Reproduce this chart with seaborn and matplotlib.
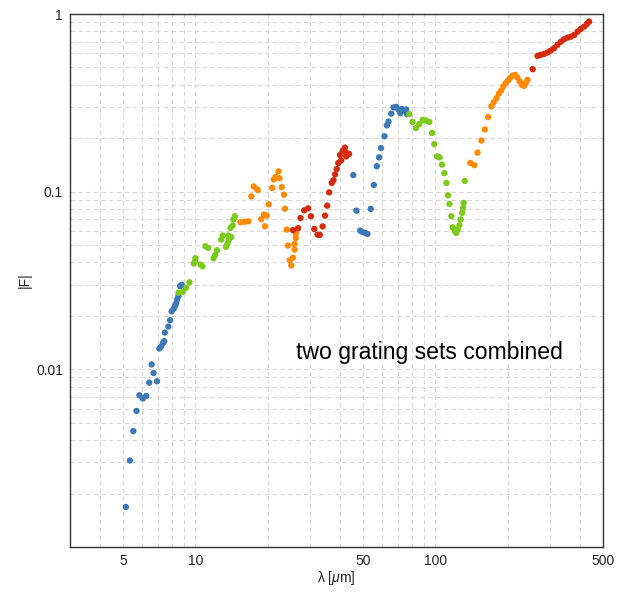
import numpy as np
import pandas as pd
import seaborn as sns
import matplotlib.pyplot as plt
from matplotlib.ticker import FixedLocator, NullFormatter

# wavelength [um] and |F| for each grating segment
blue1_x = [5.13, 5.33, 5.51, 5.68, 5.84, 6.04, 6.23, 6.42, 6.57, 6.69, 6.92, 7.07, 7.18, 7.32,
           7.41, 7.46, 7.71, 7.84, 7.96, 8.11, 8.22, 8.30, 8.38, 8.49, 8.63, 8.77]
blue1_y = [0.00168, 0.00307, 0.00449, 0.00583, 0.00714, 0.00685, 0.00708, 0.00841, 0.01066,
           0.00953, 0.00857, 0.0131, 0.0134, 0.0140, 0.0144, 0.0161, 0.0174, 0.0189, 0.0212,
           0.0219, 0.0227, 0.0234, 0.0247, 0.0258, 0.0294, 0.0299]

green1_x = [8.49, 8.85, 9.14, 9.44, 9.84, 9.97, 10.0, 10.5, 10.7, 11.0, 11.3, 11.9, 12.1, 12.3,
            12.8, 13.0, 13.4, 13.6, 13.7, 13.8, 14.0, 14.1, 14.3, 14.4, 14.6]
green1_y = [0.0270, 0.0273, 0.0288, 0.0309, 0.0394, 0.0405, 0.0422, 0.0388, 0.0380, 0.0493,
            0.0483, 0.0422, 0.0441, 0.0468, 0.0537, 0.0566, 0.0489, 0.0510, 0.0566, 0.0537,
            0.0625, 0.0556, 0.0644, 0.0697, 0.0727]

orange1_x = [15.4, 16.0, 16.6, 17.1, 17.5, 18.1, 18.2, 18.8, 19.3, 19.5, 19.8, 20.2, 20.9, 21.2,
             21.6, 22.2, 22.4, 22.9, 23.4, 23.6, 24.0, 24.3, 24.7, 25.1, 25.5, 25.9, 25.9,
             26.2, 26.2]
orange1_y = [0.0673, 0.0676, 0.0681, 0.0941, 0.107, 0.103, 0.102, 0.0700, 0.0743, 0.0638,
             0.0733, 0.0849, 0.105, 0.117, 0.121, 0.130, 0.119, 0.106, 0.0962, 0.0802, 0.0612,
             0.0498, 0.0411, 0.0384, 0.0425, 0.0472, 0.0508, 0.0549, 0.0581]

red1_x = [25.5, 26.8, 27.4, 28.4, 29.5, 30.3, 31.3, 32.3, 33.0, 33.9, 34.7, 35.4, 36.1, 37.0,
          37.6, 38.2, 38.8, 39.4, 40.1, 40.5, 41.0, 41.5, 42.0, 42.5, 42.7, 43.7]
red1_y = [0.0607, 0.0623, 0.0711, 0.0785, 0.0806, 0.0727, 0.0617, 0.0573, 0.0571, 0.0638,
          0.0733, 0.0834, 0.0991, 0.112, 0.116, 0.125, 0.134, 0.145, 0.161, 0.150, 0.168,
          0.172, 0.177, 0.158, 0.165, 0.163]

blue2_x = [45.5, 46.9, 48.6, 49.6, 51.0, 52.1, 53.8, 55.4, 57.0, 58.3, 59.4, 61.4, 62.8, 63.8,
           65.5, 67.0, 68.8, 70.2, 71.4, 72.6, 74.2, 75.6, 76.2]
blue2_y = [0.124, 0.0782, 0.0603, 0.0593, 0.0586, 0.0578, 0.0800, 0.109, 0.139, 0.156, 0.176,
           0.205, 0.236, 0.248, 0.275, 0.298, 0.300, 0.289, 0.277, 0.292, 0.285, 0.290, 0.273]

green2_x = [77.9, 80.4, 83.0, 85.7, 88.5, 91.4, 94.4, 96.9, 99.0, 101.6, 104.2, 106.6, 109.1,
            111.2, 113.0, 114.5, 116.7, 118.2, 120.5, 122.1, 124.0, 126.0, 127.6, 129.3, 130.6,
            131.4, 132.7]
green2_y = [0.273, 0.247, 0.228, 0.240, 0.253, 0.251, 0.247, 0.214, 0.185, 0.158, 0.156, 0.142,
            0.127, 0.112, 0.0953, 0.0853, 0.0727, 0.0630, 0.0603, 0.0586, 0.0612, 0.0647,
            0.0697, 0.0759, 0.0810, 0.0865, 0.115]

orange2_x = [140.0, 145.5, 149.9, 155.7, 160.8, 166.0, 171.3, 175.2, 179.9, 183.9, 188.2, 192.0,
             196.4, 200.8, 204.7, 209.4, 214.8, 219.8, 224.6, 229.1, 234.3, 238.2, 242.1]
orange2_y = [0.145, 0.141, 0.166, 0.194, 0.224, 0.263, 0.302, 0.318, 0.336, 0.356, 0.371, 0.391,
             0.408, 0.422, 0.435, 0.449, 0.454, 0.439, 0.418, 0.399, 0.394, 0.408, 0.426]

red2_x = [254.7, 266.6, 275.0, 283.9, 293.1, 302.6, 312.6, 322.7, 333.6, 344.4, 355.7, 367.2,
          379.3, 391.7, 404.5, 417.2, 428.5, 437.5]
red2_y = [0.489, 0.581, 0.589, 0.596, 0.607, 0.622, 0.642, 0.670, 0.698, 0.721, 0.736, 0.745,
          0.762, 0.796, 0.824, 0.849, 0.879, 0.906]

segments = [
    ("b1", blue1_x, blue1_y), ("g1", green1_x, green1_y), ("o1", orange1_x, orange1_y),
    ("r1", red1_x, red1_y), ("b2", blue2_x, blue2_y), ("g2", green2_x, green2_y),
    ("o2", orange2_x, orange2_y), ("r2", red2_x, red2_y),
]
palette = {"b1": "#3d79b6", "g1": "#7ccb1c", "o1": "#ff8a05", "r1": "#d52a0b",
           "b2": "#3d79b6", "g2": "#7ccb1c", "o2": "#ff8a05", "r2": "#d52a0b"}

df = pd.concat([pd.DataFrame({"lam": x, "F": y, "seg": s}) for s, x, y in segments],
               ignore_index=True)

sns.set_style("white")
plt.rcParams['font.family'] = ['Liberation Sans', 'DejaVu Sans']
plt.rcParams['mathtext.fontset'] = 'custom'
plt.rcParams['mathtext.it'] = 'Liberation Sans:italic'
plt.rcParams['mathtext.rm'] = 'Liberation Sans'
plt.rcParams['text.color'] = 'black'
plt.rcParams['axes.labelcolor'] = '#222222'
plt.rcParams['xtick.color'] = '#222222'
plt.rcParams['ytick.color'] = '#222222'

fig = plt.figure(figsize=(6.17, 5.93), dpi=100)
ax = fig.add_axes([70 / 617, 46 / 593, 533 / 617, 533 / 593])

sns.scatterplot(data=df, x="lam", y="F", hue="seg", palette=palette, s=21,
                linewidth=0, legend=False, ax=ax, zorder=3)

ax.set_xscale("log")
ax.set_yscale("log")
ax.set_xlim(3, 500)
ax.set_ylim(0.001, 1)

xmaj = [5, 10, 50, 100, 500]
xmin = [3, 4, 6, 7, 8, 9, 20, 30, 40, 60, 70, 80, 90, 200, 300, 400]
ymaj = [0.01, 0.1, 1]
ymin = [m * d for d in [0.001, 0.01, 0.1] for m in range(2, 10)]
ax.xaxis.set_major_locator(FixedLocator(xmaj))
ax.xaxis.set_minor_locator(FixedLocator(xmin))
ax.yaxis.set_major_locator(FixedLocator(ymaj))
ax.yaxis.set_minor_locator(FixedLocator(ymin))
ax.set_xticklabels(["5", "10", "50", "100", "500"])
ax.set_yticklabels(["0.01", "0.1", "1"])
ax.xaxis.set_minor_formatter(NullFormatter())
ax.yaxis.set_minor_formatter(NullFormatter())

ax.grid(True, which="both", color="#d9d9d9", linestyle=(0, (4, 3)), linewidth=0.8, zorder=0)
ax.tick_params(which="major", direction="in", length=6, width=0.8, labelsize=10, pad=5)
ax.tick_params(which="minor", direction="in", length=3, width=0.6)
for sp in ax.spines.values():
    sp.set_color("#333333")
    sp.set_linewidth(1.0)

ax.set_xlabel("λ [$\\mu$m]", fontsize=10)
ax.set_ylabel("|F|", fontsize=10)
ax.xaxis.set_label_coords(0.5, -0.042)
ax.yaxis.set_label_coords(-0.072, 0.5)

ax.text(26.2, 0.0125, "two grating sets combined", fontsize=16.6, ha="left", va="center",
        color="black")

fig.savefig("out.png", dpi=100)
